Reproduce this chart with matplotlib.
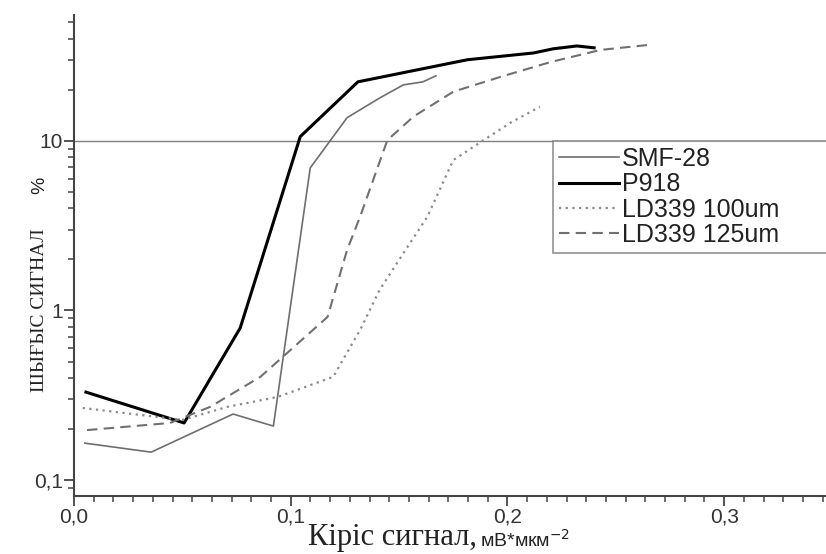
import matplotlib
matplotlib.use("Agg")
import matplotlib.pyplot as plt
from matplotlib.ticker import AutoMinorLocator, FixedLocator, FuncFormatter, LogLocator, NullFormatter

# данные (x - мВ*мкм^-2, y - %)
smf_x = [0.005, 0.0356, 0.0734, 0.092, 0.109, 0.126, 0.141, 0.152, 0.161, 0.167]
smf_y = [0.165, 0.146, 0.245, 0.208, 6.93, 13.7, 17.9, 21.4, 22.3, 24.2]

p918_x = [0.0055, 0.0508, 0.0767, 0.1044, 0.131, 0.1815, 0.212, 0.221, 0.232, 0.240]
p918_y = [0.330, 0.217, 0.789, 10.6, 22.3, 30.1, 33.0, 34.9, 36.3, 35.4]

ld100_x = [0.004, 0.050, 0.0707, 0.094, 0.1196, 0.132, 0.141, 0.153, 0.163, 0.175, 0.189, 0.2014, 0.215]
ld100_y = [0.266, 0.226, 0.270, 0.309, 0.406, 0.767, 1.32, 2.28, 3.56, 7.7, 10.1, 12.8, 15.9]

ld125_x = [0.006, 0.0443, 0.0628, 0.086, 0.117, 0.126, 0.132, 0.1446, 0.1566, 0.175, 0.197, 0.220, 0.243, 0.265]
ld125_y = [0.197, 0.217, 0.270, 0.406, 0.916, 2.27, 3.57, 10.1, 13.9, 19.5, 23.9, 29.2, 34.4, 36.8]

labels = ["SMF-28", "P918", "LD339 100um", "LD339 125um"]

plt.rcParams["font.family"] = ["Liberation Sans", "DejaVu Sans"]

fig = plt.figure(figsize=(8.26, 5.54), dpi=100)
ax = fig.add_axes([0.0896, 0.1047, 0.9104, 0.8683])

ax.plot(smf_x, smf_y, color="#6e6e6e", lw=1.2, label=labels[0])
ax.plot(p918_x, p918_y, color="black", lw=2.2, label=labels[1])
ax.plot(ld100_x, ld100_y, color="#8a8a8a", lw=1.6, linestyle=(0, (1, 2)), label=labels[2])
ax.plot(ld125_x, ld125_y, color="#707070", lw=1.5, linestyle=(0, (5, 3)), label=labels[3])

ax.axhline(10, color="#808080", lw=1.0, zorder=1)

ax.set_yscale("log")
ax.set_xlim(0, 0.347)
ax.set_ylim(0.0805, 55.3)

ax.xaxis.set_major_locator(FixedLocator([0.0, 0.1, 0.2, 0.3]))
ax.xaxis.set_minor_locator(AutoMinorLocator(11))
ax.xaxis.set_major_formatter(FuncFormatter(lambda v, p: ("%.1f" % v).replace(".", ",")))

ax.yaxis.set_major_locator(FixedLocator([0.1, 1, 10]))
ax.yaxis.set_minor_locator(LogLocator(base=10, subs=range(2, 10)))
ax.yaxis.set_minor_formatter(NullFormatter())
ax.yaxis.set_major_formatter(FuncFormatter(lambda v, p: "0,1" if v < 0.5 else "%d" % v))

for s in ["top", "right"]:
    ax.spines[s].set_visible(False)
for s in ["left", "bottom"]:
    ax.spines[s].set_color("#444444")
    ax.spines[s].set_linewidth(1.5)

ax.tick_params(which="major", direction="out", length=7, width=1.3, color="#444444",
               labelsize=15, labelcolor="#333333", pad=1)
ax.tick_params(which="minor", direction="out", length=4, width=1.1, color="#444444")

leg = ax.legend(loc="upper left", bbox_to_anchor=(0.637, 0.738, 0.42, 0.0), mode="expand",
                borderaxespad=0, fancybox=False, frameon=True, handlelength=2.4,
                labelspacing=0.05, handletextpad=0.1, borderpad=0.25, fontsize=18)
leg.get_frame().set_edgecolor("#777777")
leg.get_frame().set_linewidth(1.2)
for t in leg.get_texts():
    t.set_color("#222222")

# подписи осей
fig.text(0.048, 0.44, "ШЫҒЫС СИГНАЛ", rotation=90, ha="center", va="center",
         family="Liberation Serif", fontsize=14, color="#222222")
fig.text(0.048, 0.666, "%", rotation=90, ha="center", va="center", fontsize=14, color="#222222")
fig.text(0.577, 0.004, "Кіріс сигнал,", ha="right", va="bottom",
         family="Liberation Serif", fontsize=22, color="#222222")
fig.text(0.581, 0.006, "мВ*мкм$^{-2}$", ha="left", va="bottom", fontsize=14, color="#222222")

fig.savefig("out.png", dpi=100)
